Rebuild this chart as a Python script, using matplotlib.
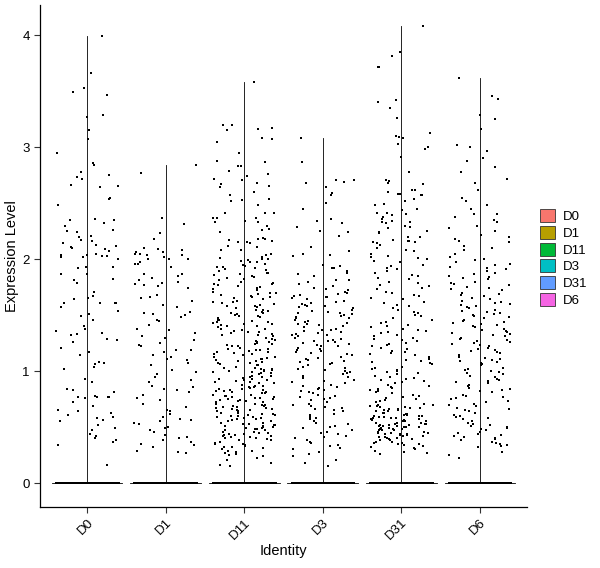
import matplotlib
matplotlib.use("Agg")
import matplotlib.pyplot as plt
from matplotlib.patches import Patch
import numpy as np

plt.rcParams['font.family'] = ['Liberation Sans', 'DejaVu Sans']

# identities and their colours (ggplot default hues)
groups = ['D0', 'D1', 'D11', 'D3', 'D31', 'D6']
colors = ['#F8766D', '#B79F00', '#00BA38', '#00BFC4', '#619CFF', '#F564E3']

# cells with zero expression in each identity (drawn as the solid bar at 0)
n_zero = [500, 500, 500, 500, 500, 500]

# non-zero expression values
d0 = [3.99, 3.66, 3.53, 3.49, 3.47, 3.29, 3.27, 3.15, 3.07, 2.95, 2.86, 2.84, 2.78, 2.75,
      2.73, 2.72, 2.66, 2.65, 2.64, 2.55, 2.54, 2.48, 2.36, 2.35, 2.35, 2.32, 2.30, 2.26,
      2.25, 2.24, 2.21, 2.20, 2.17, 2.16, 2.14, 2.13, 2.12, 2.11, 2.10, 2.09, 2.07, 2.05,
      2.04, 2.04, 2.03, 2.03, 2.02, 2.02, 2.00, 1.93, 1.93, 1.92, 1.87, 1.87, 1.82, 1.81,
      1.79, 1.71, 1.67, 1.65, 1.64, 1.61, 1.61, 1.61, 1.61, 1.57, 1.54, 1.51, 1.49, 1.46,
      1.40, 1.38, 1.36, 1.34, 1.33, 1.32, 1.29, 1.28, 1.26, 1.21, 1.17, 1.14, 1.08, 1.07,
      1.06, 1.04, 1.02, 0.93, 0.90, 0.84, 0.83, 0.81, 0.78, 0.77, 0.77, 0.77, 0.77, 0.76,
      0.72, 0.69, 0.65, 0.64, 0.63, 0.61, 0.59, 0.58, 0.56, 0.55, 0.52, 0.49, 0.47, 0.44,
      0.42, 0.40, 0.38, 0.37, 0.34, 0.16]
d1 = [2.84, 2.77, 2.37, 2.31, 2.23, 2.18, 2.10, 2.09, 2.06, 2.05, 2.04, 2.00, 2.00,
      2.08, 2.06, 2.05, 2.04, 2.02, 2.00, 1.97, 1.96, 1.96, 1.93, 1.87, 1.87, 1.85, 1.83,
      1.81, 1.80, 1.79, 1.78, 1.77, 1.76, 1.74, 1.68, 1.66, 1.65, 1.63, 1.59, 1.57, 1.53,
      1.52, 1.51, 1.50, 1.48, 1.46, 1.45, 1.41, 1.38, 1.37, 1.34, 1.31, 1.30, 1.28, 1.25,
      1.23, 1.22, 1.19, 1.19, 1.17, 1.14, 1.13, 1.11, 1.10, 1.07, 1.05, 1.01, 0.99, 0.97,
      0.95, 0.92, 0.90, 0.87, 0.86, 0.84, 0.83, 0.81, 0.79, 0.76, 0.74, 0.71, 0.68, 0.65,
      0.64, 0.62, 0.59, 0.57, 0.56, 0.55, 0.54, 0.53, 0.50, 0.49, 0.47, 0.46, 0.43, 0.41,
      0.40, 0.38, 0.37, 0.35, 0.34, 0.32, 0.29, 0.28, 0.27]
d11 = [3.58, 3.20, 3.20, 3.17, 3.16, 3.15, 3.08, 3.07, 3.05, 2.95, 2.88, 2.87, 2.83, 2.83,
       2.79, 2.76, 2.74, 2.72, 2.71, 2.68, 2.67, 2.65, 2.64, 2.60, 2.57, 2.54, 2.53, 2.52,
       2.48, 2.41, 2.41, 2.41, 2.37, 2.37, 2.37, 2.34, 2.33, 2.33, 2.30, 2.27, 2.26, 2.24,
       2.19, 2.18, 2.18, 2.17, 2.16, 2.15, 2.15, 2.14, 2.12, 2.11, 2.08, 2.08, 2.05, 2.04,
       2.02, 2.01, 2.00, 2.00, 1.99, 1.98, 1.97, 1.97, 1.96, 1.95, 1.94, 1.93, 1.93, 1.92,
       1.91, 1.90, 1.89, 1.88, 1.88, 1.87, 1.86, 1.85, 1.84, 1.83, 1.82, 1.81, 1.80, 1.79,
       1.78, 1.78, 1.77, 1.76, 1.75, 1.74, 1.73, 1.72, 1.71, 1.70, 1.70, 1.69, 1.68, 1.67,
       1.66, 1.66, 1.65, 1.64, 1.63, 1.62, 1.62, 1.61, 1.60, 1.59, 1.58, 1.58, 1.57, 1.56,
       1.55, 1.55, 1.54, 1.53, 1.52, 1.52, 1.51, 1.50, 1.49, 1.49, 1.48, 1.47, 1.46, 1.46,
       1.45, 1.44, 1.44, 1.43, 1.42, 1.42, 1.41, 1.40, 1.40, 1.39, 1.38, 1.38, 1.37, 1.36,
       1.35, 1.35, 1.34, 1.33, 1.32, 1.32, 1.31, 1.30, 1.29, 1.29, 1.28, 1.27, 1.26, 1.26,
       1.25, 1.24, 1.24, 1.23, 1.22, 1.22, 1.21, 1.20, 1.20, 1.19, 1.19, 1.18, 1.17, 1.17,
       1.16, 1.15, 1.15, 1.14, 1.13, 1.13, 1.12, 1.11, 1.11, 1.10, 1.09, 1.09, 1.08, 1.07,
       1.07, 1.06, 1.05, 1.05, 1.04, 1.03, 1.03, 1.02, 1.02, 1.01, 1.01, 1.00, 1.00, 0.99,
       0.99, 0.98, 0.98, 0.97, 0.96, 0.96, 0.95, 0.95, 0.94, 0.93, 0.93, 0.92, 0.92, 0.91,
       0.90, 0.90, 0.89, 0.89, 0.88, 0.87, 0.87, 0.86, 0.86, 0.85, 0.84, 0.84, 0.83, 0.83,
       0.82, 0.82, 0.81, 0.81, 0.80, 0.80, 0.79, 0.79, 0.78, 0.78, 0.77, 0.77, 0.76, 0.76,
       0.75, 0.75, 0.74, 0.74, 0.73, 0.73, 0.72, 0.72, 0.71, 0.71, 0.70, 0.70, 0.69, 0.69,
       0.68, 0.68, 0.67, 0.67, 0.66, 0.66, 0.65, 0.65, 0.64, 0.64, 0.63, 0.63, 0.62, 0.62,
       0.61, 0.61, 0.60, 0.60, 0.59, 0.59, 0.58, 0.58, 0.57, 0.57, 0.56, 0.56, 0.55, 0.55,
       0.54, 0.54, 0.53, 0.53, 0.52, 0.52, 0.51, 0.51, 0.50, 0.50, 0.49, 0.49, 0.48, 0.48,
       0.47, 0.47, 0.46, 0.46, 0.45, 0.45, 0.44, 0.44, 0.43, 0.43, 0.42, 0.42, 0.41, 0.41,
       0.40, 0.40, 0.39, 0.38, 0.38, 0.37, 0.36, 0.35, 0.35, 0.34, 0.33, 0.32, 0.32, 0.31,
       0.30, 0.29, 0.29, 0.28, 0.27, 0.26, 0.25, 0.24, 0.22, 0.21, 0.18, 0.16, 0.15]
d3 = [3.08, 2.87, 2.71, 2.71, 2.69, 2.68, 2.64, 2.59, 2.57, 2.50, 2.45, 2.36, 2.34, 2.32,
      2.29, 2.25, 2.24, 2.21, 2.11, 2.07, 2.05, 2.04, 2.03, 1.95, 1.94, 1.92, 1.92, 1.89,
      1.88, 1.87, 1.85, 1.81, 1.81, 1.80, 1.78, 1.76, 1.74, 1.73, 1.72, 1.71, 1.70, 1.69,
      1.68, 1.67, 1.66, 1.66, 1.65, 1.64, 1.63, 1.62, 1.61, 1.60, 1.59, 1.58, 1.58, 1.57,
      1.56, 1.55, 1.54, 1.53, 1.52, 1.52, 1.51, 1.50, 1.49, 1.48, 1.47, 1.47, 1.46, 1.45,
      1.44, 1.43, 1.42, 1.42, 1.41, 1.40, 1.39, 1.38, 1.37, 1.37, 1.36, 1.35, 1.34, 1.33,
      1.32, 1.32, 1.31, 1.30, 1.29, 1.28, 1.27, 1.27, 1.26, 1.25, 1.24, 1.23, 1.22, 1.22,
      1.21, 1.20, 1.19, 1.18, 1.17, 1.16, 1.15, 1.14, 1.13, 1.12, 1.11, 1.10, 1.09, 1.08,
      1.07, 1.06, 1.05, 1.04, 1.03, 1.02, 1.01, 1.00, 0.99, 0.98, 0.97, 0.96, 0.95, 0.94,
      0.92, 0.91, 0.90, 0.89, 0.88, 0.87, 0.86, 0.85, 0.84, 0.83, 0.82, 0.81, 0.80, 0.79,
      0.78, 0.77, 0.76, 0.75, 0.74, 0.72, 0.71, 0.70, 0.69, 0.68, 0.67, 0.66, 0.65, 0.64,
      0.62, 0.61, 0.59, 0.58, 0.57, 0.55, 0.54, 0.53, 0.51, 0.50, 0.49, 0.47, 0.46, 0.45,
      0.44, 0.42, 0.41, 0.40, 0.38, 0.37, 0.36, 0.34, 0.33, 0.31, 0.30, 0.28, 0.26, 0.24,
      0.21, 0.18, 0.15]
d31 = [4.08, 3.85, 3.81, 3.72, 3.72, 3.42, 3.40, 3.35, 3.26, 3.13, 3.10, 3.09, 3.08, 3.03,
       3.00, 2.98, 2.91, 2.78, 2.71, 2.70, 2.68, 2.67, 2.62, 2.62, 2.60, 2.58, 2.58, 2.57,
       2.57, 2.54, 2.52, 2.49, 2.48, 2.45, 2.44, 2.41, 2.41, 2.40, 2.39, 2.38, 2.36, 2.34,
       2.33, 2.33, 2.32, 2.30, 2.29, 2.28, 2.25, 2.24, 2.23, 2.20, 2.20, 2.17, 2.16, 2.16,
       2.15, 2.15, 2.14, 2.13, 2.10, 2.08, 2.07, 2.05, 2.03, 2.02, 2.01, 2.00, 1.98, 1.97,
       1.95, 1.94, 1.92, 1.91, 1.89, 1.88, 1.86, 1.85, 1.83, 1.82, 1.80, 1.79, 1.77, 1.76,
       1.74, 1.73, 1.71, 1.70, 1.68, 1.67, 1.65, 1.64, 1.62, 1.61, 1.59, 1.58, 1.56, 1.55,
       1.53, 1.52, 1.50, 1.49, 1.47, 1.46, 1.44, 1.43, 1.41, 1.40, 1.39, 1.38, 1.37, 1.36,
       1.35, 1.34, 1.32, 1.31, 1.30, 1.29, 1.28, 1.27, 1.25, 1.24, 1.23, 1.22, 1.21, 1.20,
       1.18, 1.17, 1.16, 1.15, 1.14, 1.13, 1.11, 1.10, 1.09, 1.08, 1.07, 1.06, 1.04, 1.03,
       1.02, 1.01, 1.00, 0.99, 0.98, 0.97, 0.96, 0.95, 0.94, 0.93, 0.92, 0.91, 0.90, 0.89,
       0.88, 0.87, 0.86, 0.85, 0.84, 0.83, 0.82, 0.81, 0.80, 0.79, 0.78, 0.77, 0.76, 0.75,
       0.74, 0.73, 0.72, 0.71, 0.70, 0.70, 0.69, 0.69, 0.68, 0.68, 0.67, 0.67, 0.66, 0.66,
       0.65, 0.65, 0.64, 0.64, 0.63, 0.63, 0.62, 0.62, 0.61, 0.61, 0.60, 0.60, 0.60, 0.59,
       0.59, 0.59, 0.58, 0.58, 0.58, 0.57, 0.57, 0.57, 0.56, 0.56, 0.56, 0.55, 0.55, 0.55,
       0.54, 0.54, 0.54, 0.53, 0.53, 0.53, 0.52, 0.52, 0.52, 0.51, 0.51, 0.51, 0.50, 0.50,
       0.50, 0.49, 0.49, 0.49, 0.48, 0.48, 0.48, 0.47, 0.47, 0.47, 0.46, 0.46, 0.46, 0.45,
       0.45, 0.45, 0.44, 0.44, 0.44, 0.43, 0.43, 0.42, 0.42, 0.41, 0.41, 0.40, 0.40, 0.39,
       0.39, 0.38, 0.38, 0.37, 0.37, 0.36, 0.36, 0.35, 0.35, 0.34, 0.33, 0.32, 0.31, 0.30,
       0.29, 0.28, 0.27, 0.26]
d6 = [3.62, 3.46, 3.43, 3.29, 3.25, 3.16, 3.02, 3.00, 2.97, 2.90, 2.88, 2.82, 2.78, 2.72,
      2.68, 2.62, 2.55, 2.52, 2.48, 2.45, 2.40, 2.40, 2.38, 2.35, 2.33, 2.30, 2.28, 2.25,
      2.22, 2.20, 2.18, 2.16, 2.15, 2.12, 2.10, 2.08, 2.05, 2.02, 2.00, 1.99, 1.97, 1.96,
      1.95, 1.93, 1.92, 1.91, 1.89, 1.88, 1.87, 1.85, 1.84, 1.83, 1.82, 1.80, 1.79, 1.78,
      1.77, 1.75, 1.74, 1.73, 1.72, 1.70, 1.69, 1.68, 1.67, 1.65, 1.64, 1.63, 1.62, 1.61,
      1.60, 1.59, 1.58, 1.57, 1.56, 1.55, 1.54, 1.53, 1.52, 1.51, 1.50, 1.49, 1.48, 1.47,
      1.46, 1.45, 1.44, 1.43, 1.42, 1.41, 1.40, 1.39, 1.38, 1.37, 1.36, 1.35, 1.34, 1.33,
      1.32, 1.31, 1.30, 1.29, 1.28, 1.27, 1.26, 1.25, 1.24, 1.23, 1.22, 1.21, 1.20, 1.19,
      1.18, 1.17, 1.16, 1.14, 1.13, 1.12, 1.11, 1.10, 1.09, 1.08, 1.07, 1.06, 1.05, 1.03,
      1.02, 1.01, 1.00, 0.99, 0.98, 0.97, 0.96, 0.95, 0.93, 0.92, 0.91, 0.90, 0.89, 0.88,
      0.87, 0.85, 0.84, 0.83, 0.82, 0.81, 0.79, 0.78, 0.77, 0.76, 0.75, 0.73, 0.72, 0.71,
      0.70, 0.69, 0.67, 0.66, 0.65, 0.64, 0.63, 0.61, 0.60, 0.59, 0.58, 0.57, 0.55, 0.54,
      0.53, 0.52, 0.51, 0.50, 0.49, 0.48, 0.47, 0.46, 0.45, 0.44, 0.43, 0.42, 0.41, 0.40,
      0.39, 0.38, 0.37, 0.36, 0.35, 0.34, 0.33, 0.32, 0.28, 0.25, 0.22]
values = [d0, d1, d11, d3, d31, d6]

fig = plt.figure(figsize=(6.0, 5.68), dpi=100)
ax = fig.add_axes([40 / 600, 61 / 568, 487 / 600, 502 / 568])


def jitter(n, k):
    # deterministic scatter over +-0.4, like geom_jitter(width = 0.4)
    i = np.arange(n) + 1.0 + 1000 * k
    u = np.sin(i * 12.9898 + 78.233) * 43758.5453
    u = u - np.floor(u)
    return (u - 0.5) * 0.8


for k, (g, vals) in enumerate(zip(groups, values)):
    pos = k + 1
    vals = np.asarray(vals)
    top = vals.max()
    # degenerate violin: almost every cell is 0, so it collapses to lines
    ax.plot([pos, pos], [0, top], color='black', lw=0.6, zorder=2)
    ax.plot([pos - 0.45, pos + 0.45], [0, 0], color='black', lw=0.6, zorder=2)
    allv = np.concatenate([vals, np.zeros(n_zero[k])])
    xs = pos + jitter(len(allv), k)
    ax.scatter(xs, allv, s=3.4, marker='s', color='black', linewidths=0, zorder=3)

ax.set_xlim(0.4, 6.6)
ax.set_ylim(-0.214, 4.27)
ax.set_xticks(range(1, 7))
ax.set_xticklabels(groups, rotation=45, ha='right', va='top', rotation_mode='anchor')
ax.set_yticks([0, 1, 2, 3, 4])
ax.tick_params(axis='both', labelsize=9.5, length=4, width=0.8, color='#333333')
ax.tick_params(axis='x', pad=3)
ax.spines['top'].set_visible(False)
ax.spines['right'].set_visible(False)
ax.spines['left'].set_linewidth(0.9)
ax.spines['bottom'].set_linewidth(0.9)
ax.set_xlabel('Identity', fontsize=10.5, labelpad=1)
ax.set_ylabel('Expression Level', fontsize=10.5, labelpad=2)

handles = [Patch(facecolor=c, edgecolor='#333333', linewidth=0.6, label=g)
           for g, c in zip(groups, colors)]
fig.legend(handles=handles, loc='center left', bbox_to_anchor=(540 / 600, 1 - 258 / 568),
           frameon=False, fontsize=9.5, handlelength=1.1, handleheight=1.15,
           labelspacing=0.2, handletextpad=0.6, borderpad=0, borderaxespad=0)

fig.savefig('out.png', dpi=100)
